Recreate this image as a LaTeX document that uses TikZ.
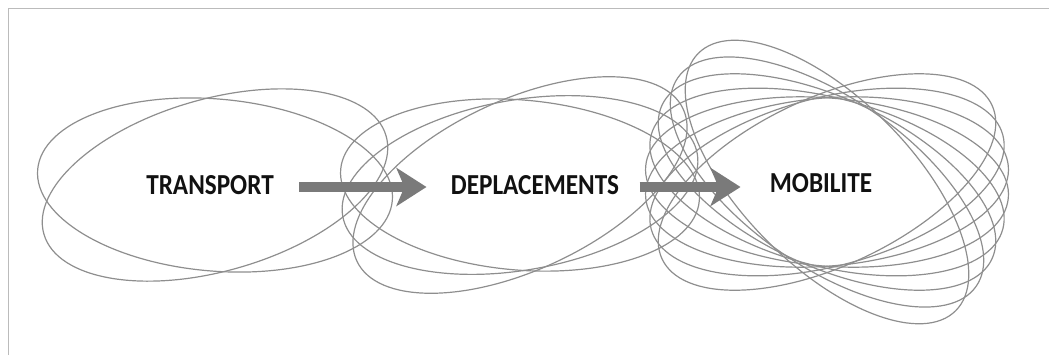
\documentclass[tikz,border=0pt]{standalone}
\usepackage{fontspec}
\newfontfamily\labelfont{Carlito}[FakeStretch=0.87]
\usetikzlibrary{arrows.meta}

\definecolor{ringgray}{HTML}{8E8E8E}
\definecolor{arrowgray}{HTML}{7A7A7A}
\definecolor{framegray}{HTML}{BBBBBB}
\definecolor{textblack}{HTML}{111111}

\tikzset{
	ring/.style = {draw = ringgray, line width = 0.6pt},
	word/.style = {font = \labelfont\bfseries\fontsize{14.5}{14.5}\selectfont, text = textblack, inner sep = 0pt},
	bigarrow/.style = {draw = arrowgray, line width = 5pt, -{Stealth[length = 15pt, width = 19pt, inset = 4pt]}}
}

\begin{document}
\begin{tikzpicture} [x = 0.5pt, y = -0.5pt]
			\useasboundingbox (0,0) rectangle (1049,355) ;
			\draw [framegray, line width = 0.5pt] (8,355) -- (8,8) -- (1049,8) ;
			
			% transport
			\draw [ring, rotate around = {16:(215,185)}] (215,185) ellipse [x radius = 178, y radius = 86] ;
			\draw [ring, rotate around = {-5:(215,185)}] (215,185) ellipse [x radius = 178, y radius = 86] ;
			
			% deplacements
			\draw [ring, rotate around = {25:(520,185)}] (520,185) ellipse [x radius = 180, y radius = 85] ;
			\draw [ring, rotate around = {10:(520,185)}] (520,185) ellipse [x radius = 180, y radius = 85] ;
			\draw [ring, rotate around = {-5:(520,185)}] (520,185) ellipse [x radius = 180, y radius = 85] ;
			
			% mobilite
			\draw [ring, rotate around = {-45:(827,182)}] (827,182) ellipse [x radius = 182, y radius = 84] ;
			\draw [ring, rotate around = {-35:(827,182)}] (827,182) ellipse [x radius = 182, y radius = 84] ;
			\draw [ring, rotate around = {-25:(827,182)}] (827,182) ellipse [x radius = 182, y radius = 84] ;
			\draw [ring, rotate around = {-15:(827,182)}] (827,182) ellipse [x radius = 182, y radius = 84] ;
			\draw [ring, rotate around = {-5:(827,182)}] (827,182) ellipse [x radius = 182, y radius = 84] ;
			\draw [ring, rotate around = {5:(827,182)}] (827,182) ellipse [x radius = 182, y radius = 84] ;
			\draw [ring, rotate around = {15:(827,182)}] (827,182) ellipse [x radius = 182, y radius = 84] ;
			\draw [ring, rotate around = {25:(827,182)}] (827,182) ellipse [x radius = 182, y radius = 84] ;
			
			\node [word] (transport) at (210,185.5) {TRANSPORT} ;
			\node [word] (deplacements) at (535,185.5) {DEPLACEMENTS} ;
			\node [word] (mobilite) at (821,183.5) {MOBILITE} ;
			
			\draw [bigarrow, shorten < = 12.5pt, shorten > = 12pt] ([yshift = -0.75pt]transport.east) -- ([yshift = -0.75pt]deplacements.west) ;
			\draw [bigarrow, shorten < = 10pt, shorten > = 14.5pt] ([yshift = -0.75pt]deplacements.east) -- ([yshift = -1.75pt]mobilite.west) ;
		\end{tikzpicture}
\end{document}
